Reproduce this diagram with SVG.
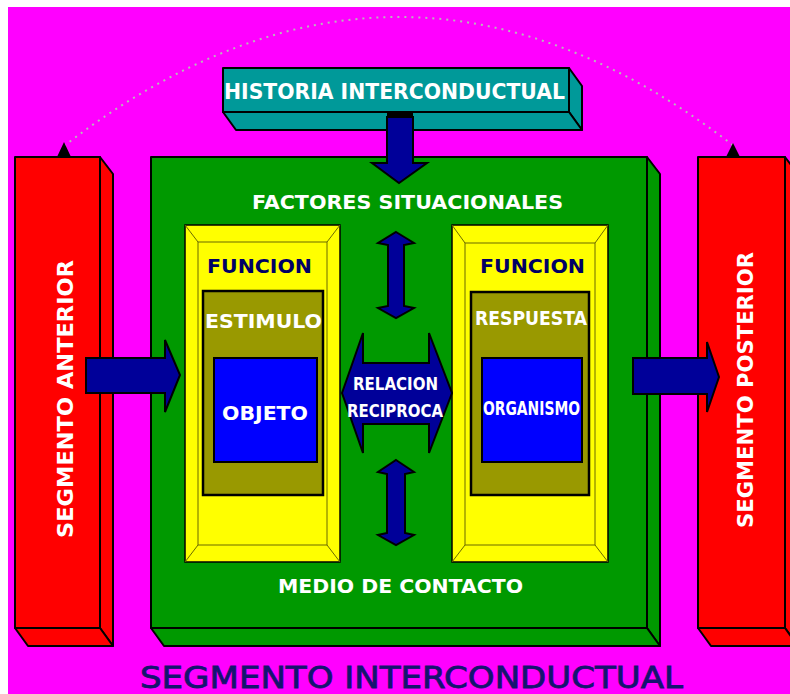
<svg xmlns="http://www.w3.org/2000/svg" width="790" height="694" viewBox="0 0 790 694">
<defs>
<style>
.box{stroke:#000;stroke-width:2;stroke-linejoin:round}
.red{fill:#ff0000}
.green{fill:#009900}
.teal{fill:#009999}
.yel{fill:#ffff00;stroke:#000;stroke-width:1.5}
.bev{fill:none;stroke:#6b6b00;stroke-width:1}
.olive{fill:#999900;stroke:#000;stroke-width:2.5}
.blue{fill:#0000ff;stroke:#000;stroke-width:2}
.arr{fill:#000099;stroke:#000;stroke-width:2;stroke-linejoin:miter}
.w{font-family:"DejaVu Sans","Liberation Sans",sans-serif;font-weight:bold;fill:#ffffff;text-anchor:middle}
.n{font-family:"DejaVu Sans","Liberation Sans",sans-serif;font-weight:bold;fill:#000066;text-anchor:middle}
</style>
</defs>
<rect x="0" y="0" width="790" height="694" fill="#ffffff"/>
<rect x="8" y="7" width="782" height="687" fill="#ff00ff"/>

<g id="segmento-anterior">
<polygon class="box red" points="100,157 113,174 113,646 100,628"/>
<polygon class="box red" points="15,628 100,628 113,646 28,646"/>
<rect class="box red" x="15" y="157" width="85" height="471"/>
<text class="w" transform="translate(73,399) rotate(-90)" font-size="22" textLength="278" lengthAdjust="spacingAndGlyphs">SEGMENTO ANTERIOR</text>
</g>

<g id="segmento-posterior">
<polygon class="box red" points="785,157 798,174 798,646 785,628"/>
<polygon class="box red" points="698,628 785,628 798,646 711,646"/>
<rect class="box red" x="698" y="157" width="87" height="471"/>
<text class="w" transform="translate(753,390) rotate(-90)" font-size="22" textLength="276" lengthAdjust="spacingAndGlyphs">SEGMENTO POSTERIOR</text>
</g>

<g id="medio-de-contacto">
<polygon class="box green" points="647,157 660,174 660,646 647,628"/>
<polygon class="box green" points="151,628 647,628 660,646 164,646"/>
<rect class="box green" x="151" y="157" width="496" height="471"/>
<text class="w" x="407.5" y="209" font-size="20" textLength="311" lengthAdjust="spacingAndGlyphs">FACTORES SITUACIONALES</text>
<text class="w" x="400.5" y="593" font-size="20" textLength="245" lengthAdjust="spacingAndGlyphs">MEDIO DE CONTACTO</text>
</g>

<g id="historia">
<polygon class="box teal" points="569,68 582,86 582,130 569,112"/>
<polygon class="box teal" points="223,112 569,112 582,130 236,130"/>
<rect class="box teal" x="223" y="68" width="346" height="44"/>
<text class="w" x="394.5" y="99" font-size="22" textLength="341" lengthAdjust="spacingAndGlyphs">HISTORIA INTERCONDUCTUAL</text>
</g>

<g id="funcion-estimulo">
<rect class="yel" x="185" y="225" width="155" height="337"/>
<rect class="bev" x="198" y="242" width="129" height="303"/>
<path class="bev" d="M185,225 L198,242 M340,225 L327,242 M185,562 L198,545 M340,562 L327,545"/>
<text class="n" x="259.5" y="273" font-size="20" textLength="105" lengthAdjust="spacingAndGlyphs">FUNCION</text>
<rect class="olive" x="203" y="291" width="120" height="204"/>
<text class="w" x="263.5" y="328" font-size="20" textLength="117" lengthAdjust="spacingAndGlyphs">ESTIMULO</text>
<rect class="blue" x="214" y="358" width="103" height="104"/>
<text class="w" x="265" y="420" font-size="20" textLength="86" lengthAdjust="spacingAndGlyphs">OBJETO</text>
</g>

<g id="funcion-respuesta">
<rect class="yel" x="452" y="225" width="156" height="337"/>
<rect class="bev" x="465" y="243" width="130" height="302"/>
<path class="bev" d="M452,225 L465,243 M608,225 L595,243 M452,562 L465,545 M608,562 L595,545"/>
<text class="n" x="532.5" y="273" font-size="20" textLength="105" lengthAdjust="spacingAndGlyphs">FUNCION</text>
<rect class="olive" x="471" y="292" width="118" height="203"/>
<text class="w" x="531" y="325" font-size="20" textLength="112" lengthAdjust="spacingAndGlyphs">RESPUESTA</text>
<rect class="blue" x="482" y="358" width="100" height="104"/>
<text class="w" x="531.5" y="415" font-size="20" textLength="97" lengthAdjust="spacingAndGlyphs">ORGANISMO</text>
</g>

<g id="connectors">
<path d="M64,146 Q399,-112 734,146" fill="none" stroke="#b8b8b8" stroke-width="2" stroke-dasharray="2 5"/>
<polygon points="64,142 71,157 57,157" fill="#000"/>
<polygon points="733,143 740,157 726,157" fill="#000"/>
<polygon class="arr" points="387,117 413,117 413,163 427,163 399,183 372,163 387,163"/>
<rect x="387" y="112" width="26" height="6" fill="#000"/>
<polygon class="arr" points="86,358 165,358 165,340 180,375 165,412 165,393 86,393"/>
<polygon class="arr" points="633,358 707,358 707,342 719,377 707,412 707,394 633,394"/>
<polygon class="arr" points="342,393 363,333 363,363 429,363 429,333 452,393 429,453 429,424 363,424 363,453"/>
<polygon class="arr" points="396,232 414,243 404,245 404,306 414,308 396,318 378,308 388,306 388,245 378,243"/>
<polygon class="arr" points="396,460 414,472 405,474 405,533 414,535 396,545 378,535 387,533 387,474 378,472"/>
</g>
<text class="w" x="395.5" y="390" font-size="17" textLength="85" lengthAdjust="spacingAndGlyphs">RELACION</text>
<text class="w" x="395" y="417" font-size="17" textLength="96" lengthAdjust="spacingAndGlyphs">RECIPROCA</text>

<text x="411.5" y="688" font-family="'DejaVu Sans','Liberation Sans',sans-serif" font-size="30" fill="#141470" stroke="#141470" stroke-width="0.8" text-anchor="middle" textLength="543" lengthAdjust="spacingAndGlyphs">SEGMENTO INTERCONDUCTUAL</text>
</svg>
